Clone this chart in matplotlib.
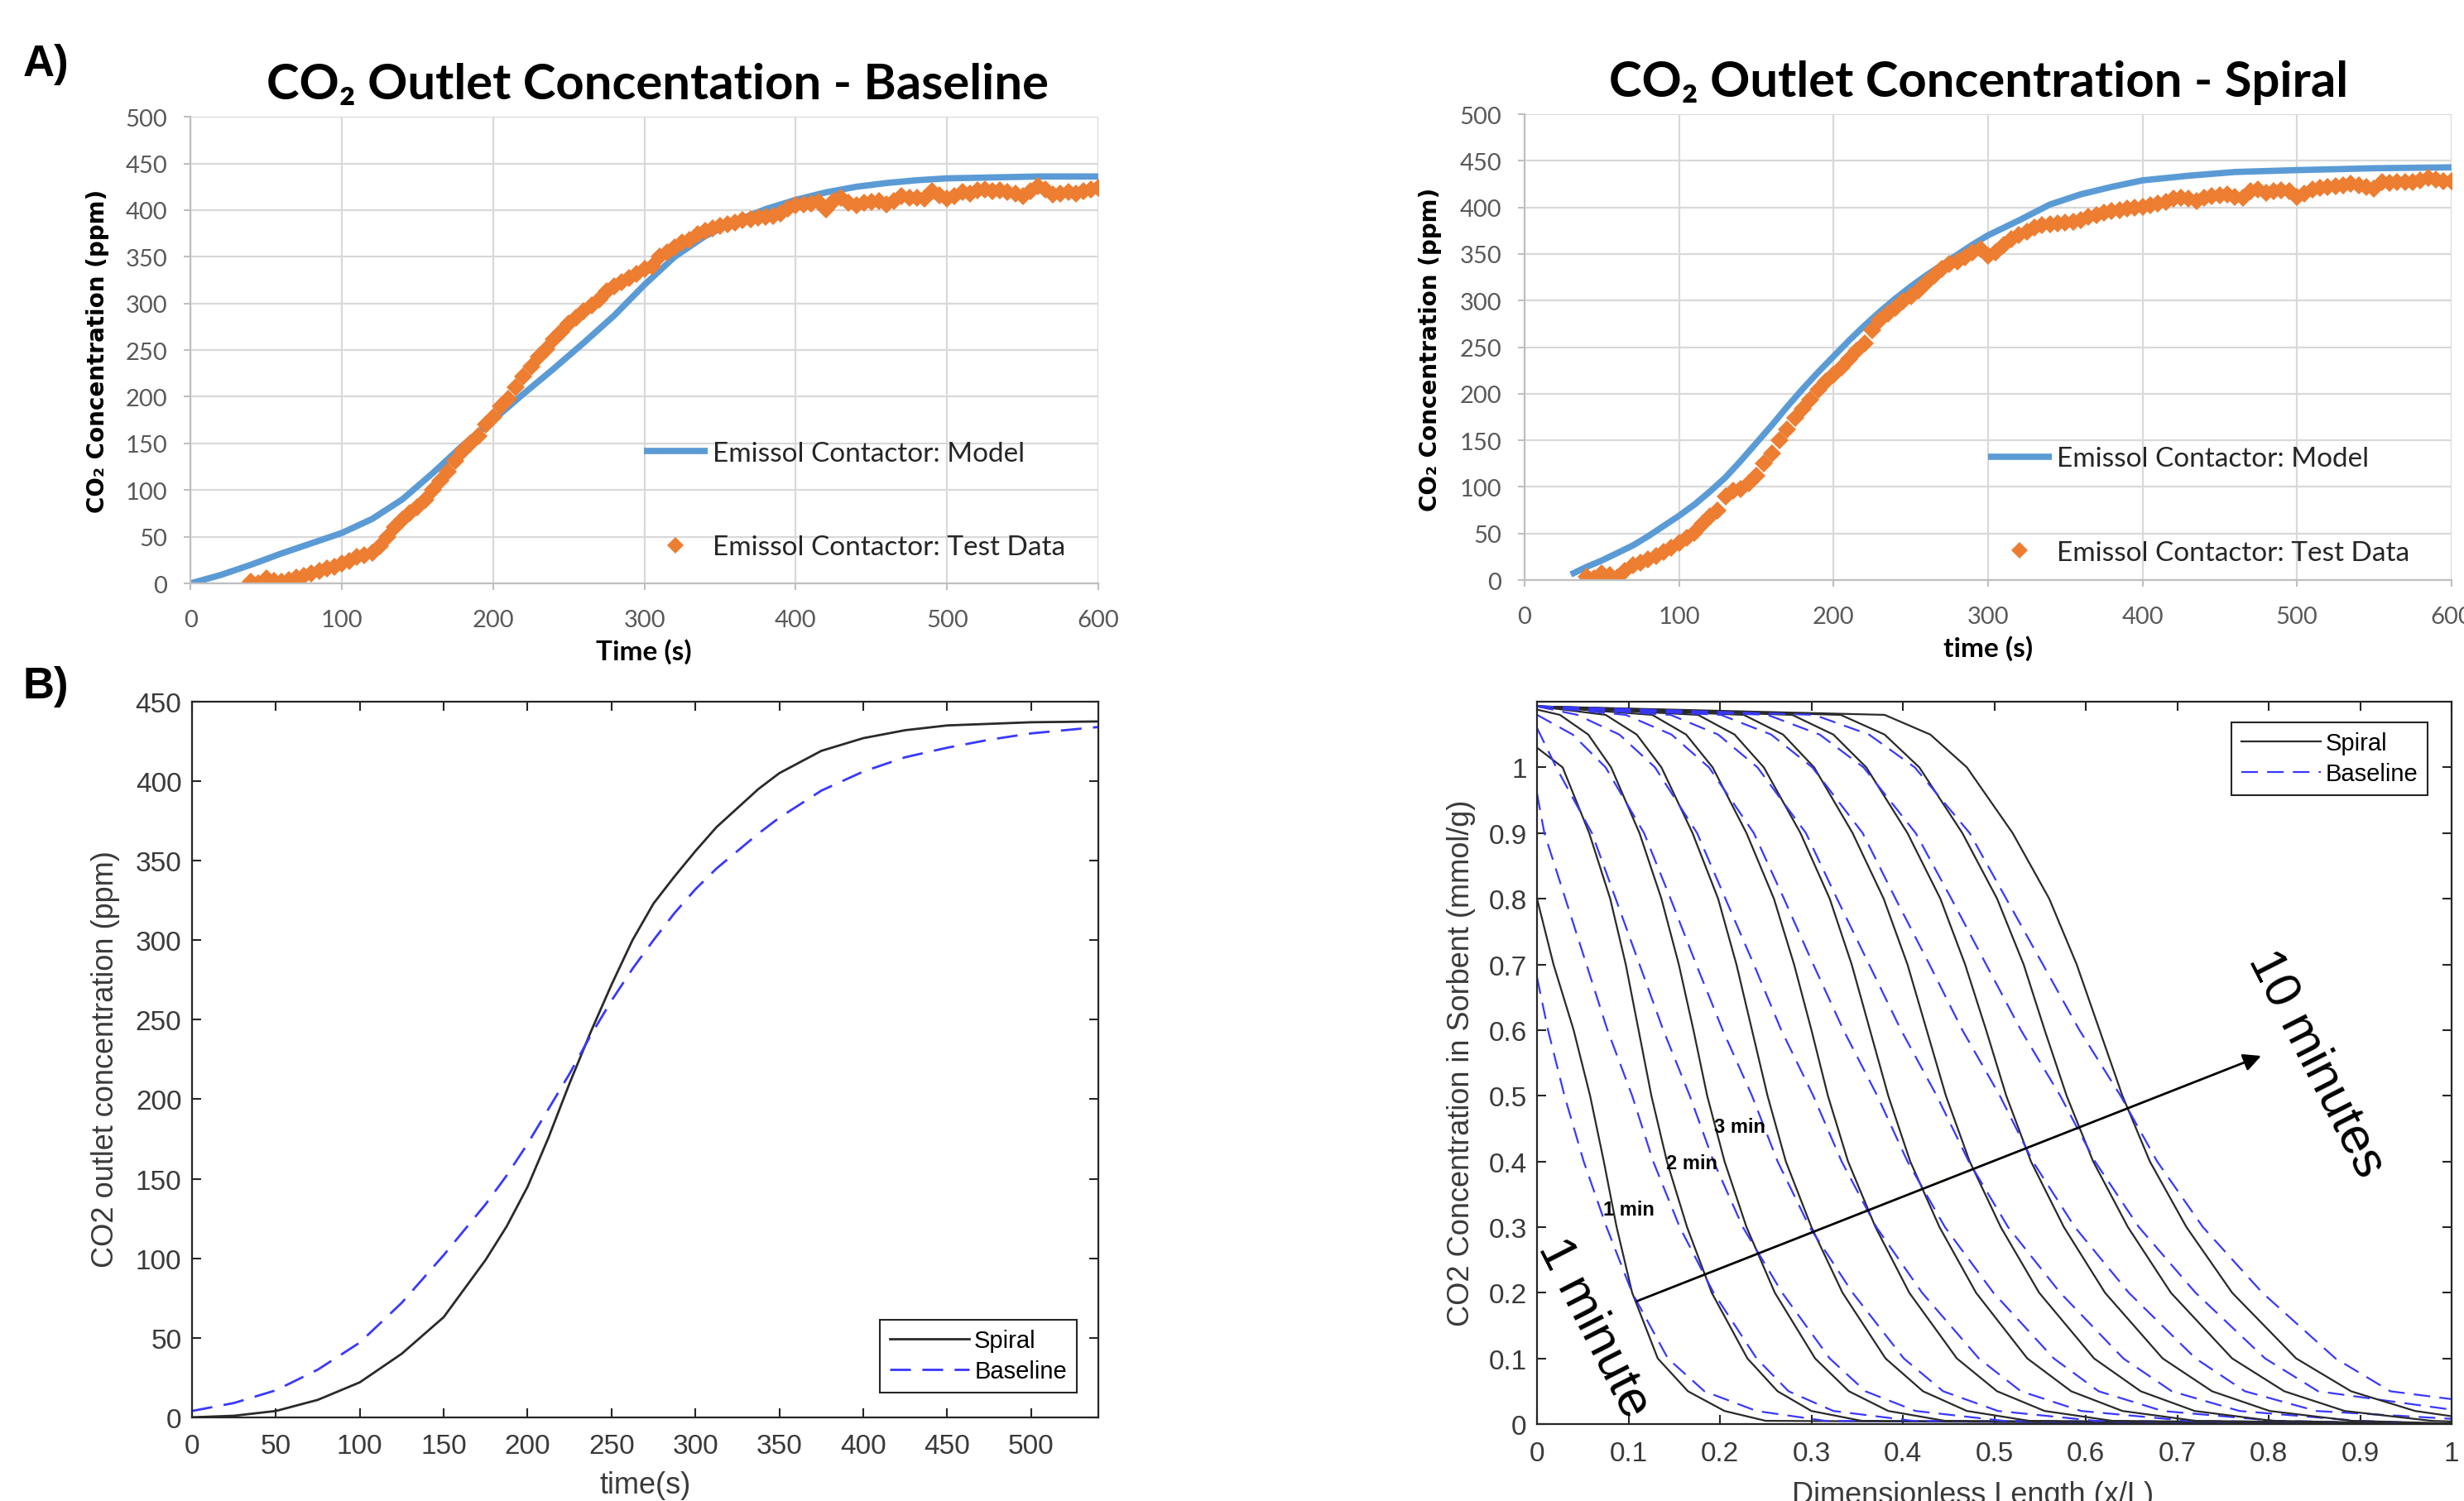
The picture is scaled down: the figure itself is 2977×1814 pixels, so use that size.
import numpy as np
import matplotlib
matplotlib.use('Agg')
import matplotlib.pyplot as plt

# ---------------- data ----------------
# A) Baseline - model (blue line) and test data (orange diamonds)
t_model_base = [0, 20, 40, 60, 80, 100, 120, 140, 160, 180, 200, 220, 240, 260, 280, 300,
                320, 340, 360, 380, 400, 420, 440, 460, 480, 500, 530, 560, 600]
co2_model_base = [0, 9, 20, 32, 43, 54, 69, 90, 118, 148, 175, 203, 230, 258, 287, 320,
                  350, 372, 388, 401, 411, 419, 425, 429, 432, 434, 435, 436, 436]
t_test = list(range(40, 601, 5))  # test data logged every 5 s from t = 40 s
co2_test_base = [2, 0, 5, 3, 2, 4, 6, 8, 11, 13, 16, 18, 21, 24, 28, 30, 33, 40, 50, 60,
                 68, 75, 82, 90, 100, 110, 120, 131, 142, 150, 158, 170, 178, 190, 198, 210,
                 222, 232, 243, 251, 262, 270, 278, 285, 292, 298, 304, 313, 318, 323, 327,
                 332, 337, 340, 350, 355, 360, 365, 368, 374, 378, 380, 383, 385, 387, 389,
                 390, 392, 393, 394, 396, 402, 405, 406, 407, 409, 401, 410, 413, 408, 405,
                 408, 409, 410, 406, 410, 415, 413, 413, 412, 420, 416, 412, 415, 419, 418,
                 421, 422, 420, 421, 419, 418, 415, 420, 426, 422, 417, 418, 419, 418, 420,
                 422, 424]

# A) Spiral
t_model_spiral = [30, 40, 50, 60, 70, 80, 90, 100, 110, 120, 130, 140, 150, 160, 170, 180,
                  190, 200, 210, 220, 230, 240, 250, 260, 270, 280, 290, 300, 320, 340, 360,
                  380, 400, 430, 460, 500, 550, 600]
co2_model_spiral = [6, 14, 21, 29, 37, 47, 58, 69, 81, 95, 110, 128, 147, 166, 186, 205,
                    223, 240, 257, 273, 288, 302, 315, 327, 338, 349, 360, 370, 386, 403, 414,
                    422, 429, 434, 438, 440, 442, 443]
co2_test_spiral = [4, 2, 7, 5, 3, 10, 16, 19, 22, 26, 30, 35, 40, 45, 51, 60, 68, 75, 90,
                   96, 98, 104, 112, 125, 136, 150, 162, 174, 184, 194, 204, 213, 220, 228,
                   237, 246, 254, 268, 279, 286, 292, 299, 305, 311, 319, 327, 334, 339, 342,
                   346, 352, 355, 348, 352, 360, 366, 370, 374, 378, 381, 382, 383, 384, 385,
                   386, 390, 392, 394, 396, 397, 399, 400, 401, 402, 404, 406, 409, 410, 409,
                   407, 410, 412, 413, 414, 411, 410, 417, 419, 416, 417, 418, 417, 411, 415,
                   419, 421, 422, 423, 424, 425, 424, 422, 420, 427, 426, 427, 427, 427, 429,
                   432, 430, 428, 428]

# B) outlet concentration, model comparison
t_sim = [0, 25, 50, 75, 100, 125, 150, 175, 187.5, 200, 212.5, 225, 237.5, 250, 262.5, 275,
         287.5, 300, 312.5, 325, 337.5, 350, 375, 400, 425, 450, 475, 500, 540]
co2_sim_spiral = [0, 1, 4, 11, 22, 40, 63, 99, 120, 145, 176, 210, 242, 272, 300, 323,
                  340, 356, 371, 383, 395, 405, 419, 427, 432, 435, 436, 437, 437.5]
co2_sim_base = [4, 9, 17, 30, 47, 72, 102, 134, 152, 172, 194, 216, 240, 262, 282, 300,
                317, 332, 345, 356, 367, 377, 394, 406, 415, 421, 426, 430, 434]

# B) sorbent loading profiles, 1..10 minutes: x/L where each curve crosses these levels
sorb_levels = [1.08, 1.05, 1.0, 0.9, 0.8, 0.7, 0.6, 0.5, 0.4, 0.3, 0.2, 0.1, 0.05, 0.02, 0.005]
nan = np.nan
spiral_x = [
    [nan, nan, nan, nan, nan, 0.018, 0.04, 0.058, 0.073, 0.087, 0.104, 0.132, 0.165, 0.205, 0.25],
    [nan, nan, 0.028, 0.057, 0.08, 0.097, 0.111, 0.125, 0.142, 0.164, 0.191, 0.23, 0.263, 0.30, 0.355],
    [0.025, 0.056, 0.081, 0.112, 0.136, 0.155, 0.171, 0.186, 0.205, 0.229, 0.26, 0.304, 0.341, 0.384, 0.446],
    [0.075, 0.109, 0.136, 0.170, 0.198, 0.218, 0.235, 0.252, 0.272, 0.300, 0.334, 0.381, 0.422, 0.470, 0.538],
    [0.126, 0.163, 0.192, 0.229, 0.259, 0.281, 0.300, 0.318, 0.340, 0.370, 0.407, 0.459, 0.503, 0.555, 0.629],
    [0.176, 0.216, 0.248, 0.288, 0.320, 0.344, 0.364, 0.384, 0.408, 0.440, 0.480, 0.536, 0.584, 0.640, 0.72],
    [0.226, 0.269, 0.303, 0.345, 0.379, 0.405, 0.426, 0.447, 0.473, 0.507, 0.549, 0.609, 0.660, 0.719, 0.804],
    [0.279, 0.324, 0.360, 0.405, 0.441, 0.468, 0.491, 0.513, 0.540, 0.576, 0.621, 0.684, 0.738, 0.801, 0.891],
    [0.332, 0.380, 0.418, 0.465, 0.503, 0.532, 0.555, 0.579, 0.608, 0.646, 0.693, 0.760, 0.817, 0.883, 0.978],
    [0.38, 0.43, 0.47, 0.52, 0.56, 0.59, 0.615, 0.64, 0.67, 0.71, 0.76, 0.83, 0.89, 0.96, nan],
]
spiral_start = [0.80, 1.03, 1.088, 1.093, 1.093, 1.093, 1.093, 1.093, 1.093, 1.093]
spiral_end = [0, 0, 0, 0, 0, 0, 0, 0.001, 0.004, 0.012]
base_x = [
    [nan, nan, nan, nan, nan, nan, 0.012, 0.030, 0.051, 0.076, 0.104, 0.143, 0.183, 0.24, 0.315],
    [nan, nan, nan, 0.008, 0.031, 0.054, 0.077, 0.104, 0.127, 0.156, 0.193, 0.240, 0.275, 0.324, 0.411],
    [nan, nan, 0.021, 0.060, 0.086, 0.112, 0.138, 0.167, 0.193, 0.225, 0.268, 0.320, 0.359, 0.414, 0.51],
    [nan, 0.039, 0.075, 0.117, 0.146, 0.174, 0.203, 0.235, 0.263, 0.298, 0.345, 0.401, 0.444, 0.504, 0.611],
    [0.044, 0.090, 0.129, 0.175, 0.206, 0.237, 0.267, 0.302, 0.333, 0.371, 0.421, 0.483, 0.529, 0.595, 0.711],
    [0.097, 0.147, 0.188, 0.237, 0.270, 0.302, 0.335, 0.372, 0.405, 0.446, 0.499, 0.565, 0.614, 0.684, 0.807],
    [0.146, 0.198, 0.241, 0.294, 0.328, 0.363, 0.398, 0.437, 0.472, 0.515, 0.572, 0.641, 0.694, 0.768, 0.898],
    [0.201, 0.256, 0.301, 0.356, 0.392, 0.429, 0.465, 0.506, 0.542, 0.588, 0.647, 0.720, 0.774, 0.852, nan],
    [0.252, 0.309, 0.357, 0.414, 0.453, 0.491, 0.529, 0.572, 0.610, 0.658, 0.720, 0.796, 0.854, nan, nan],
    [0.303, 0.363, 0.413, 0.473, 0.513, 0.553, 0.593, 0.638, 0.678, 0.728, 0.793, 0.873, 0.933, nan, nan],
]
base_start = [0.68, 0.96, 1.06, 1.08, 1.093, 1.093, 1.093, 1.093, 1.093, 1.093]
base_end = [0, 0, 0, 0, 0, 0, 0, 0.008, 0.022, 0.038]

len_ticks = [0, 0.1, 0.2, 0.3, 0.4, 0.5, 0.6, 0.7, 0.8, 0.9, 1.0]
len_tick_labels = ['0', '0.1', '0.2', '0.3', '0.4', '0.5', '0.6', '0.7', '0.8', '0.9', '1']

# ---------------- styling ----------------
EXCEL_FONT = ['Lato', 'DejaVu Sans']
MAT_FONT = ['Liberation Sans', 'DejaVu Sans']
XL_BLUE = '#5B9BD5'
XL_ORANGE = '#ED7D31'
ML_BLUE = '#3838ff'
ML_BLACK = '#2a2a2a'

fig = plt.figure(figsize=(29.77, 18.15), dpi=100)


def excel_panel(rect, t_m, y_m, t_d, y_d, title, title_x, xlabel, xlabel_pos, ylabel_pos,
                leg_anchor):
    ax = fig.add_axes(rect)
    ax.set_xlim(0, 600)
    ax.set_ylim(0, 500)
    ax.set_xticks(range(0, 601, 100))
    ax.set_yticks(range(0, 501, 50))
    ax.grid(True, color='#D9D9D9', lw=1.6)
    ax.set_axisbelow(True)
    for s in ['top', 'right']:
        ax.spines[s].set_visible(False)
    for s in ['left', 'bottom']:
        ax.spines[s].set_color('#BFBFBF')
        ax.spines[s].set_linewidth(1.6)
    ax.tick_params(direction='out', length=6, width=1.5, color='#BFBFBF',
                   labelsize=21, labelcolor='#595959', labelfontfamily='Lato')
    ax.tick_params(axis='x', pad=16)
    ax.tick_params(axis='y', pad=14)

    ax.plot(t_m, y_m, color=XL_BLUE, lw=5.5, solid_capstyle='butt',
            label='Emissol Contactor: Model')
    ax.plot(t_d, y_d, linestyle='none', marker='D', ms=11, mew=0, color=XL_ORANGE,
            label='Emissol Contactor: Test Data')

    leg = ax.legend(loc='upper left', bbox_to_anchor=leg_anchor, frameon=False,
                    prop=dict(family=EXCEL_FONT, size=24), labelspacing=2.5,
                    handlelength=2.3, handletextpad=0.2, borderpad=0, borderaxespad=0)
    for txt in leg.get_texts():
        txt.set_color('#262626')
    leg.legend_handles[1].set_markersize(10)

    fig.text(title_x[0], title_x[1], title, ha='center', va='baseline', fontsize=43,
             fontweight='bold', family=EXCEL_FONT)
    fig.text(xlabel_pos[0], xlabel_pos[1], xlabel, ha='center', va='center', fontsize=24,
             fontweight='bold', family=EXCEL_FONT)
    fig.text(ylabel_pos[0], ylabel_pos[1], 'CO₂ Concentration (ppm)', rotation=90,
             ha='center', va='center', fontsize=20, fontweight='bold', family='DejaVu Sans')
    return ax


def matlab_axes(rect):
    ax = fig.add_axes(rect)
    for s in ax.spines.values():
        s.set_color('#262626')
        s.set_linewidth(1.6)
    ax.tick_params(direction='in', length=8, width=1.5, top=True, right=True,
                   color='#262626', labelsize=24, labelcolor='#3a3a3a',
                   labelfontfamily='Liberation Sans')
    ax.tick_params(axis='x', pad=14)
    ax.tick_params(axis='y', pad=9)
    return ax


def matlab_legend(ax, **kw):
    leg = ax.legend(fancybox=False, edgecolor='#262626', framealpha=1,
                    prop=dict(family=MAT_FONT, size=21), handlelength=3.3,
                    labelspacing=0.3, borderpad=0.4, handletextpad=0.2, borderaxespad=0, **kw)
    leg.get_frame().set_linewidth(1.5)
    return leg


# ---- A) top row ----
excel_panel([0.0773, 0.6110, 0.3685, 0.3107], t_model_base, co2_model_base, t_test,
            co2_test_base, 'CO₂ Outlet Concentation - Baseline', (0.267, 0.9339),
            'Time (s)', (0.2613, 0.5658), (0.0396, 0.7664), (0.4995, 0.305))
excel_panel([0.6187, 0.6132, 0.3762, 0.3102], t_model_spiral, co2_model_spiral, t_test,
            co2_test_spiral, 'CO₂ Outlet Concentration - Spiral', (0.8029, 0.9355),
            'time (s)', (0.8069, 0.5680), (0.5805, 0.7675), (0.50, 0.287))

fig.text(0.0094, 0.957, 'A)', ha='left', va='center', fontsize=38, fontweight='bold',
         family=MAT_FONT)
fig.text(0.0094, 0.5427, 'B)', ha='left', va='center', fontsize=38, fontweight='bold',
         family=MAT_FONT)

# ---- B) bottom-left ----
ax3 = matlab_axes([0.0779, 0.0557, 0.3678, 0.4766])
ax3.plot(t_sim, co2_sim_spiral, color=ML_BLACK, lw=2, label='Spiral')
ax3.plot(t_sim, co2_sim_base, color=ML_BLUE, lw=2, dashes=(9, 5), label='Baseline')
ax3.set_xlim(0, 540)
ax3.set_ylim(0, 450)
ax3.set_xticks(range(0, 501, 50))
ax3.set_yticks(range(0, 451, 50))
matlab_legend(ax3, loc='lower right', bbox_to_anchor=(0.976, 0.035))
fig.text(0.0427, 0.2948, 'CO2 outlet concentration (ppm)', rotation=90, ha='center',
         va='center', fontsize=26, color='#3a3a3a', family=MAT_FONT)
fig.text(0.262, 0.0105, 'time(s)', ha='center', va='center', fontsize=26, color='#3a3a3a',
         family=MAT_FONT)

# ---- B) bottom-right ----
ax4 = matlab_axes([0.6238, 0.0512, 0.3712, 0.4810])
for k in range(10):
    for xs, y0, y1, col, style in [
        (spiral_x[k], spiral_start[k], spiral_end[k], ML_BLACK, None),
        (base_x[k], base_start[k], base_end[k], ML_BLUE, (9, 5)),
    ]:
        px = [0.0] + [x for x in xs if not np.isnan(x)] + [1.0]
        py = [y0] + [lv for x, lv in zip(xs, sorb_levels) if not np.isnan(x)] + [y1]
        kw = dict(color=col, lw=1.6)
        if style:
            kw['dashes'] = style
        lab = None
        if k == 0:
            lab = 'Spiral' if style is None else 'Baseline'
        ax4.plot(px, py, label=lab, **kw)
ax4.set_xlim(0, 1)
ax4.set_ylim(0, 1.1)
ax4.set_xticks(len_ticks)
ax4.set_xticklabels(len_tick_labels)
ax4.set_yticks(len_ticks)
ax4.set_yticklabels(len_tick_labels)
matlab_legend(ax4, loc='upper right', bbox_to_anchor=(0.974, 0.972))

ax4.annotate('', xy=(0.794, 0.562), xytext=(0.107, 0.186),
             arrowprops=dict(arrowstyle='-|>', color='black', lw=2, mutation_scale=32))
ax4.text(0.0615, 0.147, '1 minute', rotation=-63, ha='center', va='center', fontsize=44,
         family=MAT_FONT)
ax4.text(0.852, 0.549, '10 minutes', rotation=-63, ha='center', va='center', fontsize=44,
         family=MAT_FONT)
ax4.text(0.072, 0.327, '1 min', ha='left', va='center', fontsize=17, fontweight='bold',
         family=MAT_FONT)
ax4.text(0.141, 0.398, '2 min', ha='left', va='center', fontsize=17, fontweight='bold',
         family=MAT_FONT)
ax4.text(0.194, 0.453, '3 min', ha='left', va='center', fontsize=17, fontweight='bold',
         family=MAT_FONT)

fig.text(0.5932, 0.2920, 'CO2 Concentration in Sorbent (mmol/g)', rotation=90, ha='center',
         va='center', fontsize=26, color='#3a3a3a', family=MAT_FONT)
fig.text(0.8005, 0.0044, 'Dimensionless Length (x/L)', ha='center', va='center', fontsize=26,
         color='#3a3a3a', family=MAT_FONT)

fig.savefig('out.png', dpi=100)
